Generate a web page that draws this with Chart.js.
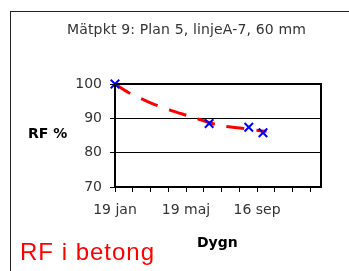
<!DOCTYPE html>
<html>
<head>
<meta charset="utf-8">
<script src="https://cdn.jsdelivr.net/npm/chart.js@4"></script>
<style>
  body { margin: 0; background: #fff; width: 349px; height: 271px; overflow: hidden; position: relative; font-family: "DejaVu Sans", sans-serif; }
  #ram { position: absolute; left: 10px; top: 11px; width: 400px; height: 300px; border-left: 1px solid #222; border-top: 1px solid #222; }
  #graf { position: absolute; left: 0; top: 0; }
  .txt { position: absolute; white-space: nowrap; }
  #titel { left: 67px; top: 21px; font-size: 14px; color: #333; letter-spacing: 0.15px; }
  #yTitel { left: 28px; top: 125px; font-size: 14px; font-weight: bold; color: #000; }
  #xTitel { left: 197px; top: 234px; font-size: 14px; font-weight: bold; color: #000; }
  #rubrik { left: 20px; top: 238px; font-size: 24px; color: #ff0000; font-family: "Liberation Sans", Arial, sans-serif; letter-spacing: 1px; }
</style>
</head>
<body>
<div id="ram"></div>
<canvas id="graf" width="349" height="271"></canvas>
<div class="txt" id="titel">Mätpkt 9: Plan 5, linjeA-7, 60 mm</div>
<div class="txt" id="yTitel">RF %</div>
<div class="txt" id="xTitel">Dygn</div>
<div class="txt" id="rubrik">RF i betong</div>
<script>
// Mätpunkter (dygn efter 19 jan, RF %)
const matDygn = [0, 159, 226, 250];
const matRF = [100, 88.5, 87.4, 85.8];

// Trendlinje (röd streckad)
const trendDygn = [0, 25, 59, 93, 122, 155, 177, 211, 245, 256];
const trendRF = [100, 97.3, 94.6, 92.4, 90.8, 89.0, 87.9, 87.2, 86.4, 86.2];

// Etiketter på x-axeln
const xEtikettDygn = [0, 120, 240];
const xEtiketter = ["19 jan", "19 maj", "16 sep"];

const yTicks = [70, 80, 90, 100];

const ramPlugin = {
  id: "ramPlugin",
  afterDatasetsDraw(chart) {
    const { ctx, chartArea: a } = chart;
    ctx.save();
    ctx.strokeStyle = "#000";
    ctx.lineWidth = 2;
    ctx.strokeRect(a.left, a.top, a.right - a.left, a.bottom - a.top);
    ctx.restore();
  }
};

const ctx = document.getElementById("graf").getContext("2d");
new Chart(ctx, {
  type: "scatter",
  data: {
    datasets: [
      {
        label: "RF",
        data: matDygn.map((d, i) => ({ x: d, y: matRF[i] })),
        pointStyle: "crossRot",
        pointRadius: 6,
        pointBorderWidth: 2,
        borderColor: "#0000ff",
        backgroundColor: "#0000ff",
        showLine: false,
        clip: false,
        order: 0
      },
      {
        label: "Trend",
        type: "line",
        data: trendDygn.map((d, i) => ({ x: d, y: trendRF[i] })),
        borderColor: "#ff0000",
        borderWidth: 3,
        borderDash: [18, 12],
        pointRadius: 0,
        tension: 0.3,
        fill: false,
        order: 1
      }
    ]
  },
  options: {
    responsive: false,
    animation: false,
    events: [],
    layout: { padding: { top: 84, right: 28, left: 0, bottom: 0 } },
    plugins: { legend: { display: false }, tooltip: { enabled: false }, title: { display: false } },
    scales: {
      x: {
        type: "linear",
        min: 0,
        max: 348,
        afterFit(s) { s.height = 84; },
        afterBuildTicks(s) {
          const t = [];
          for (let v = 0; v <= 330; v += 30) t.push({ value: v });
          s.ticks = t;
        },
        ticks: {
          autoSkip: false,
          maxRotation: 0,
          padding: 10,
          color: "#333",
          font: { family: "DejaVu Sans", size: 14 },
          callback(v) {
            const i = xEtikettDygn.indexOf(v);
            return i >= 0 ? xEtiketter[i] : "";
          }
        },
        grid: { drawOnChartArea: false, drawTicks: true, tickLength: 5, color: "#000", lineWidth: 1 },
        border: { display: true, color: "#000", width: 2 }
      },
      y: {
        min: 70,
        max: 100,
        afterFit(s) { s.width = 115; },
        afterBuildTicks(s) { s.ticks = yTicks.map(v => ({ value: v })); },
        ticks: {
          padding: 8,
          color: "#333",
          font: { family: "DejaVu Sans", size: 14 }
        },
        grid: { color: "#000", lineWidth: 1, tickLength: 5 },
        border: { display: true, color: "#000", width: 2 }
      }
    }
  },
  plugins: [ramPlugin]
});
</script>
</body>
</html>
